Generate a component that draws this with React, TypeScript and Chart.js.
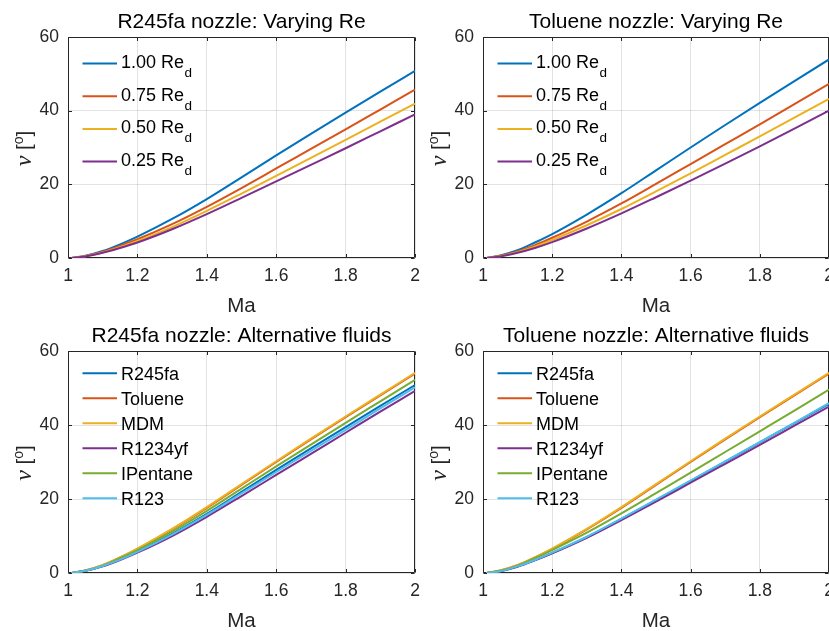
import React, { useEffect, useRef } from 'react';
import { Chart, registerables } from 'chart.js';
Chart.register(...registerables);

// ---------- data ----------
const MA = [1.01, 1.05, 1.1, 1.15, 1.2, 1.3, 1.4, 1.5, 1.6, 1.7, 1.8, 1.9, 2.0];
const X_TICKS = [1, 1.2, 1.4, 1.6, 1.8, 2];
const Y_TICKS = [0, 20, 40, 60];

const RE_LABELS = ['1.00 Re', '0.75 Re', '0.50 Re', '0.25 Re'];
const FLUID_LABELS = ['R245fa', 'Toluene', 'MDM', 'R1234yf', 'IPentane', 'R123'];

// R245fa nozzle, varying Re
const R245_RE100 = [0, 0.6, 1.9, 3.7, 5.8, 10.6, 16.0, 21.9, 27.85, 33.7, 39.45, 45.15, 50.8];
const R245_RE075 = [0, 0.5, 1.7, 3.3, 5.1, 9.2, 13.9, 19.0, 24.3, 29.6, 34.9, 40.3, 45.7];
const R245_RE050 = [0, 0.5, 1.5, 2.9, 4.6, 8.4, 12.8, 17.5, 22.3, 27.2, 32.1, 37.0, 41.9];
const R245_RE025 = [0, 0.4, 1.4, 2.7, 4.2, 7.8, 11.9, 16.3, 20.8, 25.3, 29.8, 34.4, 39.0];

// Toluene nozzle, varying Re
const TOL_RE100 = [0, 0.7, 2.1, 4.2, 6.5, 11.8, 17.6, 23.8, 30.0, 36.1, 42.1, 48.0, 53.9];
const TOL_RE075 = [0, 0.6, 1.8, 3.5, 5.5, 9.9, 14.8, 20.1, 25.5, 30.9, 36.3, 41.8, 47.3];
const TOL_RE050 = [0, 0.5, 1.6, 3.1, 4.9, 8.9, 13.3, 18.1, 23.0, 28.0, 33.0, 38.1, 43.2];
const TOL_RE025 = [0, 0.4, 1.4, 2.7, 4.3, 8.0, 12.1, 16.5, 21.0, 25.6, 30.3, 35.1, 40.0];

// R245fa nozzle, alternative fluids
const A_R245FA = [0, 0.6, 1.9, 3.7, 5.8, 10.6, 16.0, 21.9, 27.85, 33.7, 39.45, 45.15, 50.8];
const A_TOLUENE = [0, 0.7, 2.1, 4.2, 6.5, 11.8, 17.6, 23.8, 30.0, 36.1, 42.1, 48.0, 53.9];
const A_MDM = [0, 0.7, 2.2, 4.2, 6.6, 11.9, 17.8, 24.0, 30.2, 36.3, 42.3, 48.2, 54.1];
const A_R1234YF = [0, 0.6, 1.8, 3.5, 5.5, 10.0, 15.2, 20.8, 26.5, 32.2, 37.9, 43.6, 49.2];
const A_IPENTANE = [0, 0.6, 2.0, 4.0, 6.2, 11.2, 16.8, 22.8, 28.8, 34.7, 40.6, 46.4, 52.2];
const A_R123 = [0, 0.6, 1.9, 3.6, 5.7, 10.4, 15.7, 21.5, 27.3, 33.0, 38.7, 44.5, 50.2];

// Toluene nozzle, alternative fluids
const B_R245FA = [0, 0.5, 1.8, 3.5, 5.4, 9.7, 14.6, 19.7, 24.9, 30.1, 35.3, 40.5, 45.7];
const B_TOLUENE = [0, 0.7, 2.1, 4.2, 6.5, 11.8, 17.6, 23.8, 30.0, 36.1, 42.1, 48.0, 53.9];
const B_MDM = [0, 0.7, 2.2, 4.2, 6.6, 11.9, 17.8, 24.0, 30.2, 36.3, 42.3, 48.2, 54.1];
const B_R1234YF = [0, 0.5, 1.7, 3.4, 5.3, 9.5, 14.3, 19.3, 24.4, 29.5, 34.6, 39.8, 45.0];
const B_IPENTANE = [0, 0.6, 2.0, 4.0, 6.2, 10.9, 16.1, 21.6, 27.1, 32.7, 38.3, 43.9, 49.6];
const B_R123 = [0, 0.5, 1.8, 3.5, 5.5, 9.8, 14.7, 19.8, 25.0, 30.2, 35.4, 40.6, 45.9];

const COLORS = ['#0072BD', '#D95319', '#EDB120', '#7E2F8E', '#77AC30', '#4DBEEE'];

const TITLES = [
  'R245fa nozzle: Varying Re',
  'Toluene nozzle: Varying Re',
  'R245fa nozzle: Alternative fluids',
  'Toluene nozzle: Alternative fluids',
];

// ---------- layout ----------
const CW = 860;
const CH = 631;
const SANS = '"Liberation Sans", Arial, Helvetica, sans-serif';
const AXIS = '#262626';

type Panel = {
  title: string;
  area: { l: number; t: number; r: number; b: number };
  labels: string[];
  sub: boolean;
  series: number[][];
  legFirst: number;
  legStep: number;
};

const PANELS: Panel[] = [
  {
    title: TITLES[0],
    area: { l: 68, t: 37, r: 415, b: 258 },
    labels: RE_LABELS,
    sub: true,
    series: [R245_RE100, R245_RE075, R245_RE050, R245_RE025],
    legFirst: 26.5,
    legStep: 32.7,
  },
  {
    title: TITLES[1],
    area: { l: 483, t: 37, r: 829, b: 258 },
    labels: RE_LABELS,
    sub: true,
    series: [TOL_RE100, TOL_RE075, TOL_RE050, TOL_RE025],
    legFirst: 26.5,
    legStep: 32.7,
  },
  {
    title: TITLES[2],
    area: { l: 68, t: 351, r: 415, b: 573 },
    labels: FLUID_LABELS,
    sub: false,
    series: [A_R245FA, A_TOLUENE, A_MDM, A_R1234YF, A_IPENTANE, A_R123],
    legFirst: 22.3,
    legStep: 25,
  },
  {
    title: TITLES[3],
    area: { l: 483, t: 351, r: 829, b: 573 },
    labels: FLUID_LABELS,
    sub: false,
    series: [B_R245FA, B_TOLUENE, B_MDM, B_R1234YF, B_IPENTANE, B_R123],
    legFirst: 22.3,
    legStep: 25,
  },
];

const Y_AXIS_W = 60;
const X_AXIS_H = 30;

function makePlugin(p: Panel) {
  return {
    id: 'matlabDecor',
    beforeDatasetsDraw(chart: any) {
      const ctx = chart.ctx as CanvasRenderingContext2D;
      const { left, top, right, bottom } = chart.chartArea;
      const xs = chart.scales.x;
      const ys = chart.scales.y;
      ctx.save();
      ctx.strokeStyle = AXIS;
      ctx.lineWidth = 1;
      const L = Math.round(left) + 0.5;
      const R = Math.round(right) - 0.5;
      const T = Math.round(top) + 0.5;
      const B = Math.round(bottom) - 0.5;
      ctx.beginPath();
      ctx.rect(L, T, R - L, B - T);
      const tl = 3.5;
      X_TICKS.forEach((v) => {
        const px = Math.round(xs.getPixelForValue(v)) + 0.5;
        ctx.moveTo(px, B);
        ctx.lineTo(px, B - tl);
        ctx.moveTo(px, T);
        ctx.lineTo(px, T + tl);
      });
      Y_TICKS.forEach((v) => {
        const py = Math.round(ys.getPixelForValue(v)) + 0.5;
        ctx.moveTo(L, py);
        ctx.lineTo(L + tl, py);
        ctx.moveTo(R, py);
        ctx.lineTo(R - tl, py);
      });
      ctx.stroke();
      ctx.restore();
    },
    afterDraw(chart: any) {
      const ctx = chart.ctx as CanvasRenderingContext2D;
      const { left, top, right, bottom } = chart.chartArea;
      const cx = (left + right) / 2;
      ctx.save();
      // title
      ctx.fillStyle = '#000';
      ctx.font = `21px ${SANS}`;
      ctx.textAlign = 'center';
      ctx.textBaseline = 'alphabetic';
      ctx.fillText(p.title, cx, top - 9);
      // x title
      ctx.fillStyle = AXIS;
      ctx.font = `20.5px ${SANS}`;
      ctx.fillText('Ma', cx, bottom + 53.5);
      // y title (rotated)
      ctx.save();
      ctx.translate(left - 37, (top + bottom) / 2 + 1);
      ctx.rotate(-Math.PI / 2);
      ctx.textAlign = 'left';
      const parts = [
        { t: '\u03BD', f: `italic 24px "Liberation Serif", "Times New Roman", serif`, dy: 0 },
        { t: ' [', f: `20.5px ${SANS}`, dy: 0 },
        { t: 'o', f: `14px ${SANS}`, dy: -8.5 },
        { t: ']', f: `20.5px ${SANS}`, dy: 0 },
      ];
      let tot = 0;
      parts.forEach((q) => {
        ctx.font = q.f;
        tot += ctx.measureText(q.t).width;
      });
      let x0 = -tot / 2;
      parts.forEach((q) => {
        ctx.font = q.f;
        ctx.fillText(q.t, x0, q.dy);
        x0 += ctx.measureText(q.t).width;
      });
      ctx.restore();
      // legend
      p.labels.forEach((lab, i) => {
        const y = top + p.legFirst + i * p.legStep;
        ctx.strokeStyle = COLORS[i];
        ctx.lineWidth = 2;
        ctx.beginPath();
        ctx.moveTo(left + 14.5, y);
        ctx.lineTo(left + 49, y);
        ctx.stroke();
        ctx.fillStyle = '#000';
        ctx.textAlign = 'left';
        ctx.font = `18px ${SANS}`;
        const base = y + (p.sub ? 4.5 : 6.4);
        ctx.fillText(lab, left + 53, base);
        if (p.sub) {
          const w = ctx.measureText(lab).width;
          ctx.font = `13.5px ${SANS}`;
          ctx.fillText('d', left + 53 + w + 0.5, base + 9);
        }
      });
      ctx.restore();
    },
  };
}

function buildConfig(p: Panel): any {
  const n = p.series.length;
  return {
    type: 'line',
    data: {
      datasets: p.series.map((s, i) => ({
        label: p.labels[i],
        data: MA.map((x, j) => ({ x, y: s[j] })),
        borderColor: COLORS[i],
        backgroundColor: COLORS[i],
        borderWidth: 2,
        pointRadius: 0,
        fill: false,
        cubicInterpolationMode: 'monotone',
        order: n - i,
      })),
    },
    options: {
      animation: false,
      responsive: false,
      maintainAspectRatio: false,
      events: [],
      layout: {
        padding: {
          left: p.area.l - Y_AXIS_W,
          top: p.area.t,
          right: CW - p.area.r,
          bottom: CH - p.area.b - X_AXIS_H,
        },
      },
      plugins: {
        legend: { display: false },
        tooltip: { enabled: false },
        title: { display: false },
      },
      scales: {
        x: {
          type: 'linear',
          min: 1,
          max: 2,
          afterFit: (s: any) => {
            s.height = X_AXIS_H;
          },
          afterBuildTicks: (s: any) => {
            s.ticks = X_TICKS.map((v) => ({ value: v }));
          },
          grid: { color: 'rgba(38,38,38,0.13)', lineWidth: 1, drawTicks: false },
          border: { display: false },
          ticks: {
            font: { family: SANS, size: 17.5 },
            color: AXIS,
            padding: 8,
            maxRotation: 0,
            autoSkip: false,
            callback: (v: number) => String(v),
          },
        },
        y: {
          type: 'linear',
          min: 0,
          max: 60,
          afterFit: (s: any) => {
            s.width = Y_AXIS_W;
          },
          afterBuildTicks: (s: any) => {
            s.ticks = Y_TICKS.map((v) => ({ value: v }));
          },
          grid: { color: 'rgba(38,38,38,0.13)', lineWidth: 1, drawTicks: false },
          border: { display: false },
          ticks: {
            font: { family: SANS, size: 17.5 },
            color: AXIS,
            padding: 9,
            autoSkip: false,
            callback: (v: number) => String(v),
          },
        },
      },
    },
    plugins: [makePlugin(p)],
  };
}

function PanelCanvas({ p }: { p: Panel }) {
  const ref = useRef<HTMLCanvasElement | null>(null);
  useEffect(() => {
    if (!ref.current) return;
    const chart = new Chart(ref.current, buildConfig(p));
    return () => chart.destroy();
  }, [p]);
  return (
    <canvas
      ref={ref}
      width={CW}
      height={CH}
      style={{ position: 'absolute', left: 0, top: 0, width: CW, height: CH }}
    />
  );
}

export default function App() {
  return (
    <div
      style={{
        position: 'fixed',
        left: 0,
        top: 0,
        width: 829,
        height: 631,
        overflow: 'hidden',
        background: '#fff',
      }}
    >
      {PANELS.map((p, i) => (
        <PanelCanvas key={i} p={p} />
      ))}
    </div>
  );
}
